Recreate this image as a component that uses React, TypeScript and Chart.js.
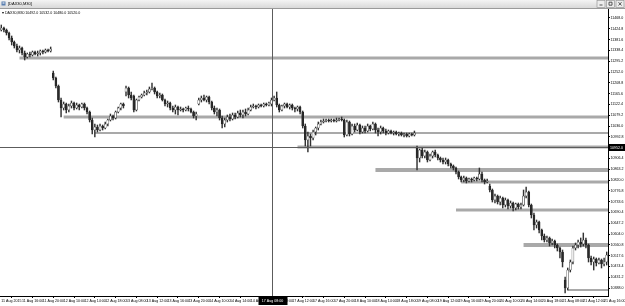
import React, { useEffect, useRef } from "react";
import { Chart, registerables } from "chart.js";

Chart.register(...registerables);

const SYMBOL = "DAX30,M30";

// [open, high, low, close] per 30-minute bar, one array per trading session
const AUG11 = [
  [11420, 11440, 11416, 11428], [11428, 11432, 11412, 11420], [11420, 11424, 11400, 11408], [11408, 11412, 11380, 11388],
  [11388, 11396, 11360, 11372], [11372, 11376, 11348, 11356], [11356, 11364, 11332, 11340], [11340, 11356, 11328, 11348],
  [11348, 11352, 11320, 11328], [11328, 11336, 11300, 11312], [11312, 11328, 11308, 11324], [11324, 11332, 11312, 11320],
  [11320, 11336, 11316, 11332], [11332, 11336, 11320, 11324], [11324, 11336, 11316, 11328], [11328, 11340, 11320, 11336],
  [11336, 11340, 11324, 11332], [11332, 11344, 11328, 11340], [11340, 11344, 11332, 11336], [11336, 11352, 11332, 11344],
];
const AUG12 = [
  [11248, 11256, 11220, 11228], [11228, 11232, 11188, 11196], [11196, 11200, 11132, 11140], [11140, 11148, 11072, 11108],
  [11108, 11132, 11100, 11124], [11124, 11128, 11088, 11100], [11100, 11124, 11092, 11116], [11116, 11136, 11108, 11128],
  [11128, 11132, 11100, 11108], [11108, 11128, 11104, 11120], [11120, 11124, 11100, 11112], [11112, 11128, 11108, 11124],
  [11124, 11128, 11100, 11108], [11108, 11112, 11084, 11092], [11092, 11096, 11052, 11060], [11060, 11068, 11004, 11020],
  [11020, 11044, 10992, 11032], [11032, 11040, 11012, 11020], [11020, 11044, 11016, 11036], [11036, 11040, 11020, 11028],
  [11028, 11052, 11024, 11044], [11044, 11064, 11036, 11060], [11060, 11084, 11056, 11076], [11076, 11080, 11060, 11068],
  [11068, 11096, 11064, 11092], [11092, 11112, 11088, 11108], [11108, 11128, 11100, 11124], [11124, 11128, 11108, 11116],
];
const AUG13 = [
  [11172, 11196, 11156, 11188], [11188, 11192, 11148, 11160], [11160, 11172, 11140, 11148], [11156, 11160, 11092, 11100],
  [11100, 11144, 11096, 11140], [11140, 11156, 11136, 11152], [11152, 11164, 11148, 11160], [11160, 11176, 11156, 11168],
  [11168, 11180, 11160, 11172], [11172, 11192, 11168, 11184], [11184, 11208, 11180, 11188], [11188, 11192, 11164, 11172],
  [11172, 11176, 11148, 11156], [11156, 11168, 11148, 11160], [11160, 11164, 11136, 11140], [11140, 11144, 11116, 11124],
  [11124, 11136, 11112, 11128], [11128, 11132, 11100, 11108], [11108, 11116, 11092, 11100], [11100, 11120, 11084, 11112],
  [11112, 11116, 11080, 11100], [11100, 11112, 11096, 11104], [11104, 11108, 11092, 11100], [11100, 11112, 11096, 11108],
  [11108, 11116, 11096, 11104], [11104, 11108, 11088, 11092], [11092, 11096, 11068, 11076], [11076, 11092, 11060, 11084],
];
const AUG14 = [
  [11124, 11148, 11120, 11140], [11140, 11156, 11132, 11148], [11148, 11160, 11136, 11140], [11140, 11156, 11132, 11152],
  [11152, 11156, 11124, 11132], [11132, 11136, 11100, 11108], [11108, 11116, 11084, 11092], [11092, 11108, 11076, 11100],
  [11100, 11104, 11060, 11068], [11068, 11076, 11028, 11044], [11044, 11068, 11032, 11060], [11060, 11080, 11052, 11072],
  [11072, 11084, 11056, 11064], [11064, 11088, 11060, 11080], [11080, 11088, 11064, 11072], [11072, 11096, 11068, 11088],
  [11088, 11100, 11072, 11080], [11080, 11100, 11068, 11092], [11092, 11104, 11076, 11084], [11084, 11108, 11080, 11100],
  [11100, 11120, 11096, 11112], [11112, 11124, 11108, 11116], [11116, 11120, 11104, 11112], [11112, 11124, 11108, 11120],
  [11120, 11124, 11112, 11116], [11116, 11128, 11112, 11124], [11124, 11128, 11116, 11120], [11120, 11132, 11116, 11128],
];
const AUG17 = [
  [11124, 11148, 11116, 11140], [11140, 11156, 11136, 11148], [11148, 11172, 11112, 11120], [11120, 11124, 11092, 11100],
  [11100, 11120, 11096, 11116], [11116, 11128, 11108, 11124], [11124, 11128, 11108, 11112], [11112, 11124, 11104, 11120],
  [11120, 11124, 11100, 11108], [11108, 11112, 11092, 11104], [11104, 11116, 11096, 11112], [11112, 11116, 11084, 11092],
  [11092, 11096, 11028, 11036], [11036, 11044, 10956, 10980], [10980, 11012, 10932, 10996], [10996, 11004, 10956, 10988],
  [10988, 11020, 10980, 11012], [11012, 11032, 11000, 11028], [11028, 11052, 11020, 11044], [11044, 11060, 11040, 11052],
  [11052, 11064, 11048, 11056], [11056, 11064, 11052, 11060], [11060, 11064, 11052, 11056], [11056, 11064, 11052, 11060],
  [11060, 11064, 11052, 11056], [11056, 11068, 11052, 11060], [11060, 11068, 11056, 11064], [11064, 11072, 11056, 11060],
];
const AUG18 = [
  [11060, 11064, 10992, 11000], [11000, 11060, 10996, 11052], [11052, 11056, 10996, 11004], [11004, 11044, 11000, 11036],
  [11036, 11044, 11012, 11020], [11020, 11048, 11016, 11040], [11040, 11044, 11004, 11012], [11012, 11036, 11008, 11028],
  [11028, 11036, 11008, 11016], [11016, 11044, 11012, 11036], [11036, 11040, 11016, 11024], [11024, 11052, 11020, 11044],
  [11044, 11048, 11008, 11020], [11020, 11028, 10996, 11012], [11012, 11036, 11004, 11028], [11028, 11032, 11008, 11016],
  [11016, 11024, 11000, 11008], [11008, 11020, 11004, 11016], [11016, 11020, 11004, 11008], [11008, 11016, 11000, 11012],
  [11012, 11016, 11000, 11004], [11004, 11012, 10996, 11008], [11008, 11012, 10996, 11000], [11000, 11008, 10992, 11004],
  [11004, 11008, 10992, 10996], [10996, 11008, 10992, 11004], [11004, 11008, 10996, 11000], [11000, 11016, 10996, 11008],
];
const AUG19 = [
  [10948, 10956, 10860, 10908], [10908, 10944, 10892, 10940], [10940, 10948, 10908, 10916], [10916, 10940, 10908, 10932],
  [10932, 10936, 10892, 10900], [10900, 10924, 10896, 10916], [10916, 10936, 10908, 10932], [10932, 10940, 10912, 10920],
  [10920, 10924, 10900, 10908], [10908, 10912, 10892, 10900], [10900, 10908, 10884, 10892], [10892, 10908, 10884, 10900],
  [10900, 10904, 10876, 10884], [10884, 10888, 10868, 10876], [10876, 10880, 10860, 10868], [10868, 10872, 10844, 10852],
  [10852, 10856, 10824, 10832], [10832, 10836, 10812, 10820], [10820, 10836, 10812, 10828], [10828, 10832, 10808, 10816],
  [10816, 10828, 10812, 10824], [10824, 10828, 10812, 10820], [10820, 10832, 10816, 10828], [10828, 10832, 10816, 10824],
  [10824, 10868, 10820, 10844], [10844, 10852, 10812, 10820], [10820, 10824, 10804, 10812], [10812, 10824, 10808, 10816],
];
const AUG20 = [
  [10796, 10804, 10772, 10780], [10780, 10784, 10732, 10740], [10740, 10764, 10728, 10756], [10756, 10760, 10724, 10732],
  [10732, 10756, 10720, 10748], [10748, 10752, 10708, 10720], [10720, 10748, 10712, 10740], [10740, 10744, 10704, 10716],
  [10716, 10736, 10708, 10728], [10728, 10732, 10696, 10708], [10708, 10728, 10700, 10724], [10724, 10728, 10704, 10712],
  [10712, 10728, 10704, 10720], [10720, 10780, 10716, 10756], [10756, 10792, 10748, 10772], [10772, 10776, 10712, 10720],
  [10720, 10724, 10668, 10680], [10680, 10688, 10620, 10640], [10640, 10660, 10628, 10652], [10652, 10656, 10608, 10620],
  [10620, 10624, 10580, 10596], [10596, 10604, 10572, 10580], [10580, 10596, 10572, 10588], [10588, 10592, 10556, 10568],
  [10568, 10584, 10560, 10576], [10576, 10580, 10548, 10560], [10560, 10564, 10536, 10548], [10548, 10552, 10508, 10532],
];
const AUG21 = [
  [10532, 10540, 10472, 10492], [10420, 10432, 10368, 10388], [10388, 10468, 10380, 10460], [10460, 10500, 10452, 10492],
  [10492, 10556, 10484, 10548], [10548, 10568, 10540, 10560], [10560, 10580, 10548, 10572], [10572, 10588, 10552, 10564],
  [10564, 10608, 10556, 10580], [10580, 10588, 10548, 10560], [10560, 10564, 10492, 10508], [10508, 10516, 10480, 10492],
  [10492, 10512, 10460, 10504], [10504, 10508, 10476, 10488], [10488, 10508, 10484, 10500], [10500, 10504, 10468, 10484],
  [10484, 10508, 10476, 10492], [10492, 10532, 10480, 10520],
];
const SESSIONS = [AUG11, AUG12, AUG13, AUG14, AUG17, AUG18, AUG19, AUG20, AUG21];

// time-axis labels, one every 8 bars
const X_TICK_STEP = 8;
const X_TICK_LABELS = [
  "11 Aug 2015", "11 Aug 16:00", "11 Aug 20:00", "12 Aug 10:00", "12 Aug 14:00", "12 Aug 18:00",
  "13 Aug 08:00", "13 Aug 12:00", "13 Aug 16:00", "13 Aug 20:00", "14 Aug 10:00", "14 Aug 14:00", "14 Aug 18:00",
  "17 Aug 08:00", "17 Aug 12:00", "17 Aug 16:00", "17 Aug 20:00", "18 Aug 10:00", "18 Aug 14:00", "18 Aug 18:00",
  "19 Aug 08:00", "19 Aug 12:00", "19 Aug 16:00", "19 Aug 20:00", "20 Aug 10:00", "20 Aug 14:00", "20 Aug 18:00",
  "21 Aug 08:00", "21 Aug 12:00", "21 Aug 16:00",
];

// price-axis labels
const Y_TICKS = [
  11468.0, 11424.8, 11381.6, 11338.4, 11295.2, 11252.0, 11208.8, 11165.6, 11122.4, 11079.2, 11036.0, 10992.8, 10949.6,
  10906.4, 10863.2, 10820.0, 10776.8, 10733.6, 10690.4, 10647.2, 10604.0, 10560.8, 10517.6, 10474.4, 10431.2, 10388.0,
];
const Y_MIN = 10356;
const Y_MAX = 11504;

// horizontal support / resistance levels and the bar each one starts at
const BAND_LEVELS = [11308, 11072, 11008, 10952, 10860, 10812, 10700, 10560, 10380];
const BAND_STARTS = [7, 24, 36, 114, 144, 177, 175, 201, 218];

// crosshair
const CROSS_INDEX = 104;
const CROSS_PRICE = 10952.0;
const CROSS_TIME = "17 Aug 08:00";

// styles (kept apart from data)
const BAND_WIDTHS = [3, 3, 2, 3, 4, 3, 3, 4, 2];
const BAND_COLOR = "#a9a9a9";
const FONT = "'Liberation Sans', Arial, sans-serif";

export default function App() {
  const ref = useRef<HTMLCanvasElement | null>(null);

  useEffect(() => {
    if (!ref.current) return;
    const bars = SESSIONS.flat();
    const n = bars.length;
    const xMax = n - 0.5;

    const wickData = bars.map((b, i) => ({ x: i, y: [b[2], b[1]] }));
    const bodyData = bars.map((b, i) => ({ x: i, y: [Math.min(b[0], b[3]), Math.max(b[0], b[3])] }));
    const bodyColors = bars.map((b) => (b[3] >= b[0] ? "#ffffff" : "#2a2a2a"));

    const bandSets = BAND_LEVELS.map((lvl, k) => ({
      type: "line" as const,
      data: [
        { x: BAND_STARTS[k], y: lvl },
        { x: xMax, y: lvl },
      ],
      borderColor: BAND_COLOR,
      borderWidth: BAND_WIDTHS[k],
      pointRadius: 0,
      fill: false,
      order: 3,
    }));

    const last = bars[n - 1];
    const subtitle = `${SYMBOL} ${last[0].toFixed(1)} ${last[1].toFixed(1)} ${last[2].toFixed(1)} ${last[3].toFixed(1)}`;

    const decor = {
      id: "mtDecor",
      beforeDraw(chart: any) {
        const ctx = chart.ctx;
        const W = chart.width;
        ctx.save();
        ctx.fillStyle = "#ffffff";
        ctx.fillRect(0, 0, W, chart.height);
        const g = ctx.createLinearGradient(0, 0, 0, 8);
        g.addColorStop(0, "#f4f4f4");
        g.addColorStop(1, "#d9d9d9");
        ctx.fillStyle = g;
        ctx.fillRect(0, 0, W, 8);
        ctx.fillStyle = "#9a9a9a";
        ctx.fillRect(0, 8, W, 1);
        ctx.fillStyle = "#5a7fb0";
        ctx.fillRect(1.5, 1.5, 4, 4);
        ctx.fillStyle = "#ffffff";
        ctx.fillRect(2.5, 2.5, 2, 1);
        ctx.fillStyle = "#000";
        ctx.font = `4px ${FONT}`;
        ctx.textBaseline = "middle";
        ctx.textAlign = "left";
        ctx.fillText(`[${SYMBOL}]`, 8, 4.3);
        const bx = [597, 606.5, 616];
        bx.forEach((x, k) => {
          ctx.fillStyle = "#ececec";
          ctx.fillRect(x, 0.5, 8, 7);
          ctx.strokeStyle = "#8a8a8a";
          ctx.lineWidth = 0.6;
          ctx.strokeRect(x, 0.5, 8, 7);
          ctx.strokeStyle = "#333";
          ctx.lineWidth = 0.8;
          ctx.beginPath();
          if (k === 0) {
            ctx.moveTo(x + 2.5, 5);
            ctx.lineTo(x + 5.5, 5);
          } else if (k === 1) {
            ctx.rect(x + 2.5, 2.2, 3, 3);
          } else {
            ctx.moveTo(x + 2.5, 2.2);
            ctx.lineTo(x + 5.5, 5.5);
            ctx.moveTo(x + 5.5, 2.2);
            ctx.lineTo(x + 2.5, 5.5);
          }
          ctx.stroke();
        });
        ctx.restore();
      },
      afterDatasetsDraw(chart: any) {
        const ctx = chart.ctx;
        const { left, right, top, bottom } = chart.chartArea;
        const xs = chart.scales.x;
        const ys = chart.scales.y;
        const cx = Math.round(xs.getPixelForValue(CROSS_INDEX)) + 0.5;
        const cy = Math.round(ys.getPixelForValue(CROSS_PRICE)) + 0.5;
        ctx.save();
        ctx.strokeStyle = "#5c5c5c";
        ctx.lineWidth = 1;
        ctx.beginPath();
        ctx.moveTo(cx, top);
        ctx.lineTo(cx, bottom);
        ctx.moveTo(left, cy);
        ctx.lineTo(right, cy);
        ctx.stroke();
        ctx.fillStyle = "#000";
        ctx.font = `3.6px ${FONT}`;
        ctx.textBaseline = "middle";
        ctx.textAlign = "left";
        ctx.fillText("\u25BE " + subtitle, 2, top + 4);
        ctx.fillStyle = "#000";
        ctx.fillRect(right, cy - 3.5, chart.width - right, 7);
        ctx.fillStyle = "#fff";
        ctx.fillText(CROSS_PRICE.toFixed(1), right + 2, cy);
        ctx.fillStyle = "#000";
        ctx.fillRect(cx - 14, bottom + 1, 29, 8);
        ctx.fillStyle = "#fff";
        ctx.textAlign = "center";
        ctx.fillText(CROSS_TIME, cx, bottom + 5);
        ctx.restore();
      },
    };

    const chart = new Chart(ref.current, {
      type: "bar",
      data: {
        datasets: [
          {
            type: "bar",
            data: bodyData as any,
            backgroundColor: bodyColors,
            borderColor: "#222222",
            borderWidth: 0.5,
            borderSkipped: false,
            barThickness: 2,
            minBarLength: 1,
            grouped: false,
            order: 1,
          } as any,
          {
            type: "bar",
            data: wickData as any,
            backgroundColor: "#333333",
            borderWidth: 0,
            barThickness: 0.8,
            grouped: false,
            order: 2,
          } as any,
          ...bandSets,
        ],
      },
      options: {
        animation: false,
        responsive: false,
        devicePixelRatio: 1,
        layout: { padding: { top: 9, left: 0, right: 0, bottom: 0 } },
        plugins: { legend: { display: false }, tooltip: { enabled: false }, title: { display: false } },
        events: [],
        scales: {
          x: {
            type: "linear",
            min: -0.5,
            max: xMax,
            offset: false,
            grid: { display: true, drawOnChartArea: false, drawTicks: true, tickLength: 2, color: "#000" },
            border: { display: true, color: "#000", width: 1 },
            afterBuildTicks: (scale: any) => {
              scale.ticks = X_TICK_LABELS.map((_, k) => ({ value: k * X_TICK_STEP }));
            },
            afterFit: (scale: any) => {
              scale.height = 10;
              scale.paddingLeft = 0;
              scale.paddingRight = 0;
            },
            ticks: {
              autoSkip: false,
              maxRotation: 0,
              minRotation: 0,
              align: "start",
              padding: 0.5,
              color: "#000",
              font: { size: 3.6, family: FONT },
              callback: (v: any) => X_TICK_LABELS[Math.round(Number(v) / X_TICK_STEP)] ?? "",
            },
          },
          y: {
            type: "linear",
            position: "right",
            min: Y_MIN,
            max: Y_MAX,
            grid: { display: true, drawOnChartArea: false, drawTicks: true, tickLength: 2, color: "#000" },
            border: { display: true, color: "#000", width: 1 },
            afterBuildTicks: (scale: any) => {
              scale.ticks = Y_TICKS.map((v) => ({ value: v }));
            },
            afterFit: (scale: any) => {
              scale.width = 17;
              scale.paddingTop = 0;
              scale.paddingBottom = 0;
            },
            ticks: {
              autoSkip: false,
              padding: 0.5,
              color: "#000",
              font: { size: 3.6, family: FONT },
              callback: (v: any) => Number(v).toFixed(1),
            },
          },
        },
      },
      plugins: [decor],
    } as any);

    return () => chart.destroy();
  }, []);

  return (
    <>
      <style>{`body{margin:0;background:#fff}`}</style>
      <canvas ref={ref} width={625} height={306} style={{ display: "block", width: 625, height: 306 }} />
    </>
  );
}
